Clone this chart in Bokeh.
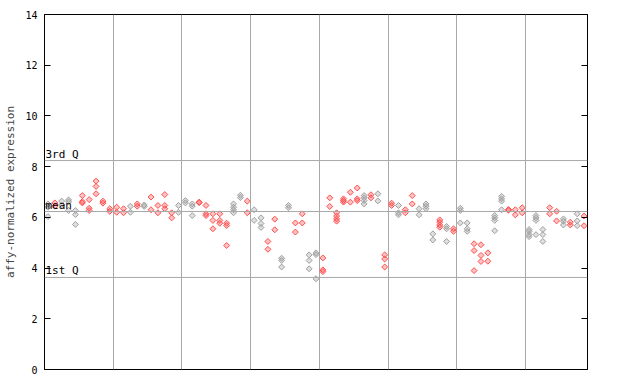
import math
from bokeh.plotting import figure
from bokeh.models import Range1d, LinearAxis, FixedTicker, Span, ColumnDataSource, Label
from bokeh.embed import file_html
from bokeh.resources import INLINE

# expression values per sample (replicates)
samples = [
    [6.53, 6.40, 6.03], [6.57, 6.44], [6.64, 6.49], [6.69, 6.61, 6.27], [6.27, 6.11, 5.72],
    [6.86, 6.62, 6.57], [6.70, 6.36, 6.27], [7.43, 7.22, 6.93], [6.64, 6.56], [6.34, 6.24],
    [6.40, 6.20], [6.34, 6.18], [6.44, 6.20], [6.53, 6.44], [6.49, 6.43],
    [6.80, 6.30], [6.47, 6.18], [6.90, 6.47, 6.34], [6.18, 5.98], [6.47, 6.20],
    [6.66, 6.57], [6.53, 6.44, 6.07], [6.60, 6.58], [6.47, 6.14, 6.07], [6.14, 5.88, 5.55],
    [6.14, 5.88, 5.77], [5.77, 5.68, 4.89], [6.53, 6.40, 6.30, 6.18], [6.87, 6.78], [6.64, 6.18],
    [6.30, 5.88], [5.98, 5.76, 5.60], [5.05, 4.74], [5.93, 5.51], [4.39, 4.30, 4.04],
    [6.47, 6.38], [5.78, 5.42], [6.14, 5.78], [4.52, 4.30, 3.97], [4.60, 4.53, 3.58],
    [4.40, 3.93, 3.86], [6.77, 6.43], [6.18, 6.05, 5.94, 5.85], [6.73, 6.66, 6.60], [6.99, 6.60],
    [7.16, 6.73, 6.66], [6.86, 6.77, 6.66, 6.53], [6.89, 6.77], [6.93, 6.65], [4.52, 4.36, 4.04],
    [6.56, 6.47], [6.47, 6.18, 6.10], [6.30, 6.18], [6.86, 6.53], [6.34, 6.10],
    [6.53, 6.44, 6.34], [5.35, 5.11], [5.90, 5.81, 5.70, 5.61], [5.64, 5.55, 5.05], [5.55, 5.45],
    [6.36, 6.27, 5.78], [5.78, 5.55, 5.45], [4.96, 4.69, 3.90], [4.92, 4.50, 4.26], [4.60, 4.27],
    [6.07, 5.98, 5.88, 5.47], [6.83, 6.73, 6.64, 6.30], [6.31, 6.28], [6.30, 6.10], [6.38, 6.18],
    [5.52, 5.44, 5.32, 5.24], [6.07, 5.98, 5.88, 5.32], [5.52, 5.32, 5.05], [6.38, 6.14], [6.24, 5.86],
    [5.94, 5.85, 5.70], [5.81, 5.70], [6.14, 5.86, 5.67], [6.05, 5.67],
]
# group of each sample: "g" grey, "r" red
groups = list(
    "grgggrrrrr"
    "rrgrgrrrrg"
    "ggrrrrrggr"
    "ggrrggrrgg"
    "rrrrrrgrgr"
    "rgrrgggrgr"
    "ggrrrggrrr"
    "gggrrgrgr"
)
quart_labels = ["3rd Q", "mean", "1st Q"]
quart_values = [8.24, 6.23, 3.63]
section_breaks = [10, 20, 30, 40, 50, 60, 70]

RED = "#ff5050"
GREY = "#a0a0a0"

xs, ys, cols = [], [], []
for i, vals in enumerate(samples):
    for v in vals:
        xs.append(i + 0.5)
        ys.append(v)
        cols.append(RED if groups[i] == "r" else GREY)
src = ColumnDataSource(dict(x=xs, y=ys, c=cols))

p = figure(width=640, height=384, output_backend="svg", toolbar_location=None,
           x_range=Range1d(0, len(samples)), y_range=Range1d(0, 14),
           min_border_left=44, min_border_right=53, min_border_top=14, min_border_bottom=15)
p.background_fill_color = "white"
p.border_fill_color = "white"
p.outline_line_color = "black"
p.outline_line_width = 1
p.outline_line_alpha = 1

p.xaxis.visible = False
p.ygrid.visible = False
p.xgrid.ticker = FixedTicker(ticks=section_breaks)
p.xgrid.grid_line_color = "#a8a8a8"
p.xgrid.grid_line_alpha = 1

ya = p.yaxis[0]
ya.ticker = FixedTicker(ticks=[0, 2, 4, 6, 8, 10, 12, 14])
ya.minor_tick_line_color = None
ya.major_tick_in = 6
ya.major_tick_out = 0
ya.major_label_standoff = 7
ya.major_label_text_font = "DejaVu Sans Mono"
ya.major_label_text_font_size = "10px"
ya.major_label_text_color = "black"
ya.axis_label = "affy-normalized expression"
ya.axis_label_text_font = "DejaVu Sans Mono"
ya.axis_label_text_font_size = "11px"
ya.axis_label_text_font_style = "normal"
ya.axis_label_standoff = 5
ya.axis_line_color = "black"

ra = LinearAxis(ticker=FixedTicker(ticks=[0, 2, 4, 6, 8, 10, 12, 14]))
ra.minor_tick_line_color = None
ra.major_tick_in = 6
ra.major_tick_out = 0
ra.major_label_text_color = None
ra.major_label_text_font_size = "1px"
ra.axis_line_color = "black"
p.add_layout(ra, "right")

for lab, val in zip(quart_labels, quart_values):
    p.add_layout(Span(location=val, dimension="width", line_color="#a8a8a8", line_width=1))
    p.add_layout(Label(x=0, y=val, text=lab, x_offset=1, y_offset=0,
                       text_font="DejaVu Sans Mono", text_font_size="11px",
                       text_baseline="bottom", text_color="black"))

p.scatter("x", "y", source=src, marker="square", size=4.2, angle=math.pi / 4,
          line_color="c", fill_color="c", fill_alpha=0.35, line_width=1)

open("out.html", "w").write(file_html(p, INLINE))
